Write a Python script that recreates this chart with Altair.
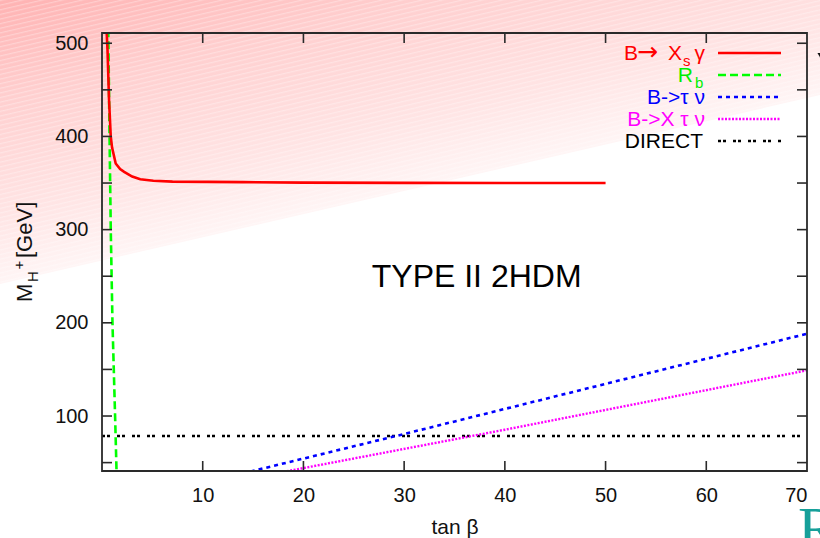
import base64
import altair as alt
import pandas as pd

# ---- data: charged Higgs mass bounds vs tan(beta), type II 2HDM ----
bsg_tanb = [0.45, 0.55, 0.70, 0.87, 1.0, 1.36, 1.8, 2.2, 3.0, 3.8, 5.1, 7.0, 14.0, 20.0, 30.0, 40.0, 50.0]
bsg_mass = [515, 492, 439, 400, 388, 371, 365, 362, 357, 354, 352.5, 351.5, 351, 350.4, 350.2, 350, 350]

rb_tanb = [0.62, 0.75, 0.87, 1.04, 1.30, 1.45]
rb_mass = [515, 400, 300, 200, 100, 38]

btaunu_tanb = [14.0, 30.0, 50.0, 70.0]
btaunu_mass = [38.5, 80.7, 134.5, 188.3]

bxtaunu_tanb = [18.0, 40.0, 70.0]
bxtaunu_mass = [40.0, 85.3, 149.0]

direct_tanb = [0.0, 70.0]
direct_mass = [78.6, 78.6]

x_ticks = [10, 20, 30, 40, 50, 60, 70]
y_ticks = [50, 100, 150, 200, 250, 300, 350, 400, 450, 500]
y_labels = [100, 200, 300, 400, 500]

# ---- layout ----
W, H = 705, 438
FONT = "Liberation Sans"
FRAME = "#2a2a2a"

x_scale = alt.Scale(domain=[0, 70], nice=False, zero=False)
y_scale = alt.Scale(domain=[41, 511], nice=False, zero=False)

x_axis = alt.Axis(values=x_ticks, ticks=False, domain=False, grid=False, zindex=2,
                  labelFont=FONT, labelFontSize=20, labelColor="#111",
                  labelPadding=14, title="tan β", titleFont=FONT,
                  titleFontSize=21, titleFontWeight="normal", titleColor="#111",
                  titleY=62, titleBaseline="alphabetic")
y_axis = alt.Axis(values=y_labels, ticks=False, domain=False, grid=False, zindex=2,
                  labelFont=FONT, labelFontSize=20, labelColor="#111",
                  labelPadding=14, title=None)


def X():
    return alt.X("tanb:Q", scale=x_scale, axis=x_axis)


def Y():
    return alt.Y("M:Q", scale=y_scale, axis=y_axis)


def frame(tanb, mass):
    return pd.DataFrame({"tanb": tanb, "M": mass})


one = alt.Data(values=[{}])

# slide-style pink wash with faint hatching behind the whole figure
wash_svg = (
    "<svg xmlns='http://www.w3.org/2000/svg' width='820' height='538'>"
    "<defs>"
    "<linearGradient id='g' gradientUnits='userSpaceOnUse' x1='0' y1='0' x2='62' y2='269'>"
    "<stop offset='0' stop-color='#ffb2b2'/>"
    "<stop offset='0.35' stop-color='#ffcfcf'/>"
    "<stop offset='0.75' stop-color='#ffe4e4'/>"
    "<stop offset='1' stop-color='#fff5f5'/>"
    "</linearGradient>"
    "<pattern id='h' patternUnits='userSpaceOnUse' width='40' height='4.5' "
    "patternTransform='rotate(-13)'>"
    "<rect x='0' y='0' width='40' height='1.2' fill='#ffffff' fill-opacity='0.3'/>"
    "</pattern>"
    "</defs>"
    "<polygon points='0,0 820,0 820,95 0,284' fill='url(#g)'/>"
    "<polygon points='0,0 820,0 820,95 0,284' fill='url(#h)'/>"
    "</svg>"
)
wash_uri = "data:image/svg+xml;base64," + base64.b64encode(wash_svg.encode()).decode()
wash = alt.Chart(one).mark_image(
    width=820, height=538, align="left", baseline="top", aspect=False
).encode(x=alt.value(-102), y=alt.value(-33), url=alt.value(wash_uri))

# curves
bsg = alt.Chart(frame(bsg_tanb, bsg_mass)).mark_line(
    color="#ff0000", strokeWidth=2.6, clip=True).encode(x=X(), y=Y())
rb = alt.Chart(frame(rb_tanb, rb_mass)).mark_line(
    color="#00ff00", strokeWidth=2.6, strokeDash=[8, 4], clip=True).encode(x=X(), y=Y())
btaunu = alt.Chart(frame(btaunu_tanb, btaunu_mass)).mark_line(
    color="#0000ff", strokeWidth=2.6, strokeDash=[4, 4], clip=True).encode(x=X(), y=Y())
bxtaunu = alt.Chart(frame(bxtaunu_tanb, bxtaunu_mass)).mark_line(
    color="#ff00ff", strokeWidth=2.4, strokeDash=[2, 1.5], clip=True).encode(x=X(), y=Y())
direct = alt.Chart(frame(direct_tanb, direct_mass)).mark_line(
    color="#000000", strokeWidth=2.6, strokeDash=[3, 2, 3, 7], clip=True).encode(x=X(), y=Y())

# inward ticks on all four sides
yt = pd.DataFrame({"M": y_ticks})
xt = pd.DataFrame({"tanb": x_ticks[:-1]})
tick_style = dict(color=FRAME, strokeWidth=1.6)
ticks = [
    alt.Chart(yt).mark_rule(**tick_style).encode(y=Y(), x=alt.value(0), x2=alt.value(10)),
    alt.Chart(yt).mark_rule(**tick_style).encode(y=Y(), x=alt.value(W - 10), x2=alt.value(W)),
    alt.Chart(xt).mark_rule(**tick_style).encode(x=X(), y=alt.value(H - 10), y2=alt.value(H)),
    alt.Chart(xt).mark_rule(**tick_style).encode(x=X(), y=alt.value(0), y2=alt.value(10)),
]

border = alt.Chart(one).mark_rect(fillOpacity=0, stroke=FRAME, strokeWidth=1.8).encode(
    x=alt.value(0), x2=alt.value(W), y=alt.value(0), y2=alt.value(H))


def label(text, x, y, color="#111", size=21, align="left", angle=0, font=FONT):
    return alt.Chart(one).mark_text(
        text=text, font=font, fontSize=size, color=color, align=align,
        baseline="alphabetic", angle=angle,
    ).encode(x=alt.value(x), y=alt.value(y))


def sample(y, color, dash, width=2.6):
    kw = dict(color=color, strokeWidth=width)
    if dash:
        kw["strokeDash"] = dash
    return alt.Chart(one).mark_rule(**kw).encode(
        x=alt.value(616), x2=alt.value(679), y=alt.value(y))


# key, top right inside the frame
key = [
    label("B", 522, 26.5, "#ff0000"),
    label("→", 535, 27, "#ff0000", size=25, font="DejaVu Sans"),
    label("X", 566, 26.5, "#ff0000"),
    label("s", 581, 32.5, "#ff0000", size=15),
    label("γ", 603, 26.5, "#ff0000", align="right"),
    sample(20, "#ff0000", None),
    label("R", 591, 49, "#00ee00", align="right"),
    label("b", 593, 54.5, "#00ee00", size=15),
    sample(42, "#00ff00", [8, 4]),
    label("B->τ ν", 603, 71, "#0000ff", align="right"),
    sample(64, "#0000ff", [4, 4]),
    label("B->X τ ν", 603, 93, "#ff00ff", align="right"),
    sample(86, "#ff00ff", [2, 1.5], 2.4),
    label("DIRECT", 601, 115, "#000000", align="right"),
    sample(108, "#000000", [3, 2, 3, 7]),
]

# rotated y title: M_{H^+} [GeV]
ytitle = [
    label("M", -70, 269, size=22, angle=270),
    label("H", -64, 249, size=15, angle=270),
    label("+", -78, 236.5, size=15, angle=270),
    label("[GeV]", -70, 225, size=22, angle=270),
]

# model annotation placed in data coordinates
model_tanb, model_mass = 37.2, 238.0
model = alt.Chart(pd.DataFrame({"tanb": [model_tanb], "M": [model_mass]})).mark_text(
    text="TYPE II 2HDM", font=FONT, fontSize=32, color="#000", align="center",
    baseline="alphabetic").encode(x=X(), y=Y())

# slide furniture at the edges
slide_letter = label("R", 696, 515, "#16a09a", size=60, font="Liberation Serif")
slide_arrow = alt.Chart(one).mark_point(shape="triangle-down", filled=True, color="#111",
                                        size=50, opacity=1).encode(
    x=alt.value(719), y=alt.value(23))

chart = alt.layer(
    wash, direct, btaunu, bxtaunu, rb, bsg, *ticks, border, model, *key, *ytitle,
    slide_letter, slide_arrow,
).properties(
    width=W, height=H,
    autosize=alt.AutoSizeParams(type="none"),
    padding={"left": 102, "top": 33, "right": 13, "bottom": 67},
    background="#ffffff",
).configure_view(stroke=None)

chart.save("out.html", embed_options={"renderer": "svg", "actions": False})
